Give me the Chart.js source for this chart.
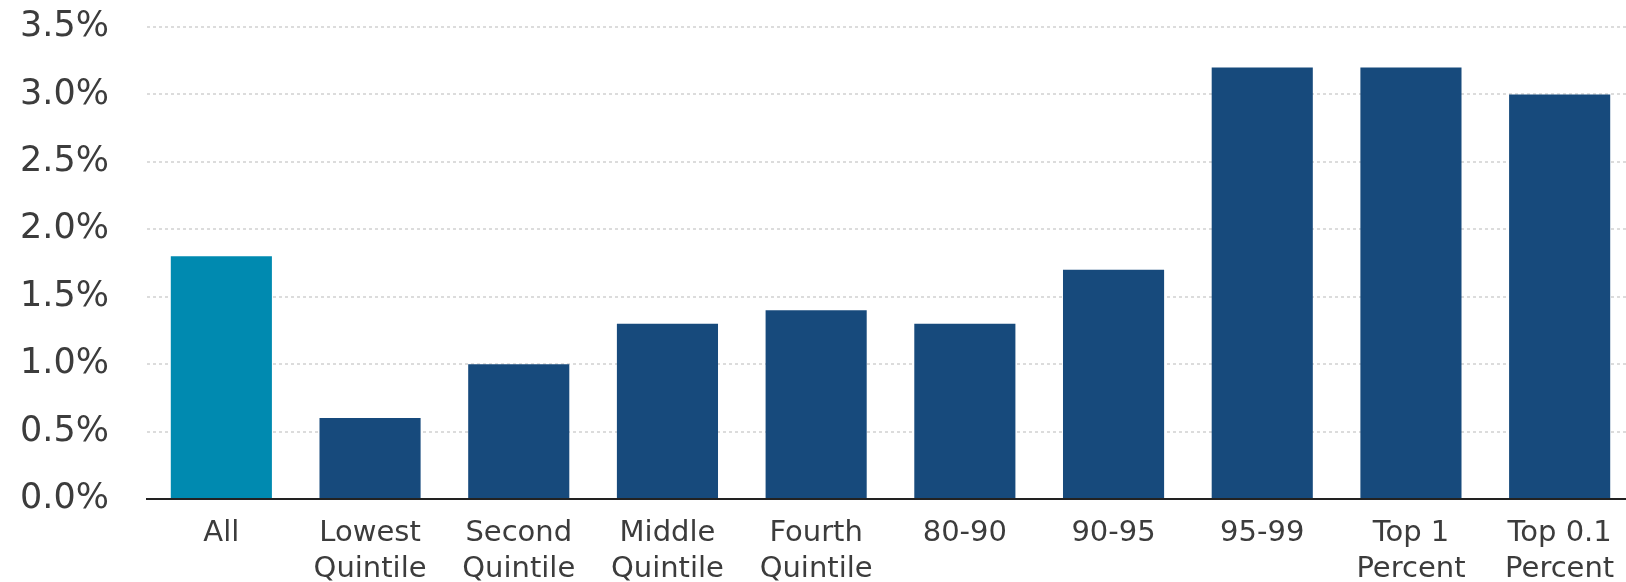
<!DOCTYPE html>
<html>
<head>
<meta charset="utf-8">
<script src="https://cdn.jsdelivr.net/npm/chart.js@4"></script>
<style>
  html, body { margin: 0; padding: 0; background: #fff; overflow: hidden; }
  #wrap { width: 1640px; height: 582px; }
</style>
</head>
<body>
<div id="wrap"><canvas id="chart" width="1640" height="582"></canvas></div>
<script>
// income groups along the x axis
const groups = [
    'All',
    ['Lowest', 'Quintile'],
    ['Second', 'Quintile'],
    ['Middle', 'Quintile'],
    ['Fourth', 'Quintile'],
    '80-90',
    '90-95',
    '95-99',
    ['Top 1', 'Percent'],
    ['Top 0.1', 'Percent']
];

// percent values
const values = [1.8, 0.6, 1.0, 1.3, 1.4, 1.3, 1.7, 3.2, 3.2, 3.0];

// first bar is highlighted
const barColors = ['#008ab0', '#174a7c', '#174a7c', '#174a7c', '#174a7c',
                   '#174a7c', '#174a7c', '#174a7c', '#174a7c', '#174a7c'];

const yTicks = [0, 0.5, 1.0, 1.5, 2.0, 2.5, 3.0, 3.5];

new Chart(document.getElementById('chart'), {
    type: 'bar',
    data: {
        labels: groups,
        datasets: [{
            data: values,
            backgroundColor: barColors,
            borderWidth: 0,
            barPercentage: 0.68,
            categoryPercentage: 1.0
        }]
    },
    options: {
        responsive: false,
        animation: false,
        layout: { padding: { top: 0, left: 0, right: 6, bottom: 0 } },
        plugins: {
            legend: { display: false },
            tooltip: { enabled: false }
        },
        scales: {
            x: {
                grid: { display: false, drawTicks: false },
                border: { display: true, color: '#222', width: 2 },
                ticks: {
                    color: '#3c3c3c',
                    padding: 17,
                    maxRotation: 0,
                    autoSkip: false,
                    font: { family: 'DejaVu Sans', size: 29, lineHeight: 1.22 }
                },
                afterFit: s => { s.height = 83; }
            },
            y: {
                min: 0,
                max: 3.5,
                afterBuildTicks: s => { s.ticks = yTicks.map(v => ({ value: v })); },
                grid: {
                    color: '#dcdcdc',
                    lineWidth: 2,
                    drawTicks: false
                },
                border: { display: false, dash: [3, 3] },
                ticks: {
                    color: '#3c3c3c',
                    padding: 38,
                    font: { family: 'DejaVu Sans', size: 35 },
                    callback: v => v.toFixed(1) + '%'
                },
                afterFit: s => { s.width = 147; s.paddingTop = 27; s.paddingBottom = 0; }
            }
        }
    }
});
</script>
</body>
</html>
